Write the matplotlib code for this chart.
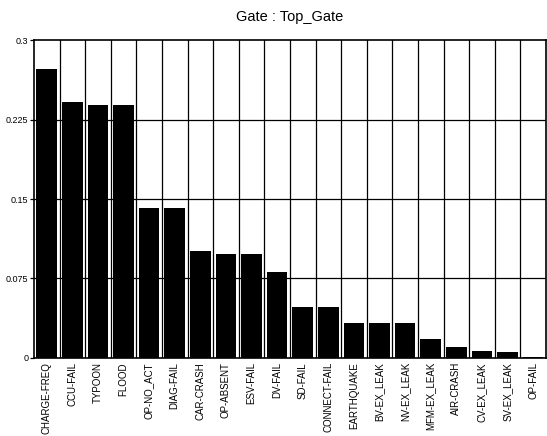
import matplotlib
matplotlib.use("Agg")
import matplotlib.pyplot as plt
import numpy as np

plt.rcParams['font.family'] = ['Liberation Sans', 'DejaVu Sans']

# basic events ranked by importance for the top gate
events = ["CHARGE-FREQ", "CCU-FAIL", "TYPOON", "FLOOD", "OP-NO_ACT", "DIAG-FAIL",
          "CAR-CRASH", "OP-ABSENT", "ESV-FAIL", "DV-FAIL", "SD-FAIL", "CONNECT-FAIL",
          "EARTHQUAKE", "BV-EX_LEAK", "NV-EX_LEAK", "MFM-EX_LEAK", "AIR-CRASH",
          "CV-EX_LEAK", "SV-EX_LEAK", "OP-FAIL"]
importance = [0.2726, 0.2415, 0.2387, 0.2387, 0.142, 0.142,
              0.101, 0.098, 0.098, 0.0814, 0.0478, 0.0478,
              0.0333, 0.0333, 0.0333, 0.0182, 0.0107,
              0.0063, 0.0054, 0.001]
yticks = [0, 0.075, 0.15, 0.225, 0.3]
ytick_labels = ["0", "0.075", "0.15", "0.225", "0.3"]

fig = plt.figure(figsize=(5.47, 4.36), dpi=100)
ax = fig.add_axes([0.062, 0.179, 0.936, 0.729])

x = np.arange(len(events))
ax.bar(x, importance, width=0.8, color='black', zorder=3)

ax.set_xlim(-0.5, len(events) - 0.5)
ax.set_ylim(0, 0.3)

# grid: horizontal at y ticks, vertical at category boundaries
for y in yticks[1:-1]:
    ax.axhline(y, color='black', lw=0.9, zorder=1)
for b in np.arange(0.5, len(events) - 0.5, 1):
    ax.axvline(b, color='black', lw=0.9, zorder=1)

ax.set_yticks(yticks)
ax.set_yticklabels(ytick_labels, fontsize=6.5)
ax.set_xticks(x)
ax.set_xticklabels(events, rotation=90, fontsize=7)
ax.tick_params(axis='x', length=0, pad=3)
ax.tick_params(axis='y', length=3, width=0.9, pad=1)

for s in ax.spines.values():
    s.set_linewidth(1.2)

fig.suptitle("Gate : Top_Gate", x=0.53, y=0.978, fontsize=10.5)

fig.savefig("out.png", dpi=100)
